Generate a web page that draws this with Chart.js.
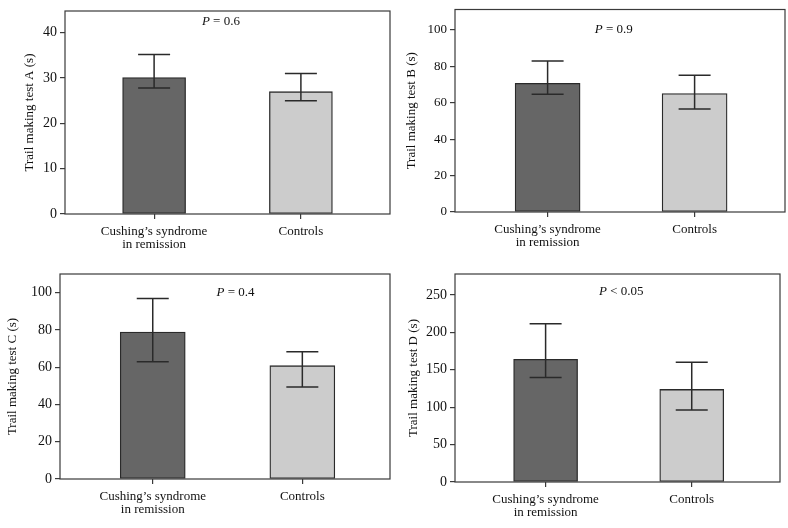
<!DOCTYPE html>
<html><head><meta charset="utf-8">
<script src="https://cdn.jsdelivr.net/npm/chart.js@4/dist/chart.umd.min.js"></script>
<style>
html,body{margin:0;padding:0;background:#fff;width:788px;height:528px;overflow:hidden}
.p{position:absolute;width:394px;height:264px}
</style></head><body>
<div class="p" style="left:0;top:0"><canvas id="cA"></canvas></div>
<div class="p" style="left:394px;top:0"><canvas id="cB"></canvas></div>
<div class="p" style="left:0;top:264px"><canvas id="cC"></canvas></div>
<div class="p" style="left:394px;top:264px"><canvas id="cD"></canvas></div>
<script>
// ---- data ----
const categories = [["Cushing’s syndrome", "in remission"], ["Controls"]];
const groupPositions = [0, 1];

const titleA = "Trail making test A (s)";
const meansA = [30.1, 27.0];
const upperA = [35.2, 31.0];
const lowerA = [27.8, 25.0];
const ticksA = [0, 10, 20, 30, 40];
const pTextA = ["P", " = 0.6"];

const titleB = "Trail making test B (s)";
const meansB = [70.7, 65.0];
const upperB = [82.9, 75.1];
const lowerB = [64.7, 56.6];
const ticksB = [0, 20, 40, 60, 80, 100];
const pTextB = ["P", " = 0.9"];

const titleC = "Trail making test C (s)";
const meansC = [78.9, 60.8];
const upperC = [96.9, 68.3];
const lowerC = [62.9, 49.4];
const ticksC = [0, 20, 40, 60, 80, 100];
const pTextC = ["P", " = 0.4"];

const titleD = "Trail making test D (s)";
const meansD = [164, 123.7];
const upperD = [211.4, 160];
const lowerD = [139.6, 96.1];
const ticksD = [0, 50, 100, 150, 200, 250];
const pTextD = ["P", " < 0.05"];

// ---- styling / layout ----
const FONT = "'Liberation Serif', 'Times New Roman', serif";
const TXT = '#111';
const LINE = '#3a3a3a';
const barColors = ['#666666', '#cccccc'];

const errorBarPlugin = {
  id: 'errbars',
  afterDatasetsDraw(chart, args, opts) {
    const meta = chart.getDatasetMeta(0);
    const ys = chart.scales.y;
    const ctx = chart.ctx;
    ctx.save();
    ctx.strokeStyle = '#2a2a2a';
    ctx.lineWidth = 1.5;
    meta.data.forEach((bar, i) => {
      const x = bar.x;
      const yU = ys.getPixelForValue(opts.upper[i]);
      const yL = ys.getPixelForValue(opts.lower[i]);
      const hw = opts.cap;
      ctx.beginPath();
      ctx.moveTo(x, yU); ctx.lineTo(x, yL);
      ctx.moveTo(x - hw, yU); ctx.lineTo(x + hw, yU);
      ctx.moveTo(x - hw, yL); ctx.lineTo(x + hw, yL);
      ctx.stroke();
    });
    ctx.restore();
  },
  afterDraw(chart, args, opts) {
    const a = chart.chartArea;
    const ctx = chart.ctx;
    ctx.save();
    ctx.strokeStyle = LINE;
    ctx.lineWidth = 1.2;
    ctx.strokeRect(a.left, a.top, a.right - a.left, a.bottom - a.top);
    // P value text
    const xs = chart.scales.x, ys = chart.scales.y;
    const px = xs.getPixelForValue(opts.px);
    const py = ys.getPixelForValue(opts.py);
    ctx.fillStyle = TXT;
    ctx.textBaseline = 'middle';
    ctx.font = "italic 13px " + FONT;
    const w1 = ctx.measureText(opts.ptext[0]).width;
    ctx.font = "13px " + FONT;
    const w2 = ctx.measureText(opts.ptext[1]).width;
    let sx = px - (w1 + w2) / 2;
    ctx.font = "italic 13px " + FONT;
    ctx.textAlign = 'left';
    ctx.fillText(opts.ptext[0], sx, py);
    ctx.font = "13px " + FONT;
    ctx.fillText(opts.ptext[1], sx + w1, py);
    ctx.restore();
  }
};

function makeChart(id, title, means, upper, lower, yticks, ptext, L) {
  const padLeft = L.titleX - 4 - 7.8;
  new Chart(document.getElementById(id), {
    type: 'bar',
    data: {
      datasets: [{
        data: groupPositions.map((g, i) => ({x: g, y: means[i]})),
        backgroundColor: barColors,
        borderColor: '#2a2a2a',
        borderWidth: 1.3,
        borderSkipped: false,
        barThickness: L.barW
      }]
    },
    options: {
      responsive: false,
      animation: false,
      devicePixelRatio: 1,
      layout: {padding: {left: padLeft, right: 394 - L.right, top: L.top, bottom: 0}},
      plugins: {
        legend: {display: false},
        tooltip: {enabled: false},
        errbars: {upper, lower, cap: 16, px: L.px, py: L.py, ptext}
      },
      scales: {
        x: {
          type: 'linear',
          offset: false,
          min: L.xmin, max: L.xmax,
          afterBuildTicks: s => { s.ticks = groupPositions.map(v => ({value: v})); },
          afterFit: s => { s.height = 264 - L.bottom; },
          border: {display: false},
          grid: {offset: false, drawOnChartArea: false, drawTicks: true, tickLength: 5, tickColor: LINE, lineWidth: 1.2},
          ticks: {
            autoSkip: false, maxRotation: 0, padding: 6,
            color: TXT,
            font: {family: FONT, size: 13, lineHeight: 1.02},
            callback: v => categories[groupPositions.indexOf(v)]
          }
        },
        y: {
          min: 0, max: L.ymax,
          afterBuildTicks: s => { s.ticks = yticks.map(v => ({value: v})); },
          afterFit: s => { s.width = L.left - padLeft; },
          border: {display: false},
          grid: {drawOnChartArea: false, drawTicks: true, tickLength: 5, tickColor: LINE, lineWidth: 1.2},
          ticks: {padding: 3, color: TXT, font: {family: FONT, size: L.tickSize, lineHeight: 1}},
          title: {display: true, text: title, color: TXT, padding: {top: 4, bottom: 4},
                  font: {family: FONT, size: 13}}
        }
      }
    },
    plugins: [errorBarPlugin]
  });
}

for (const id of ['cA','cB','cC','cD']) {
  const c = document.getElementById(id); c.width = 394; c.height = 264;
}

makeChart('cA', titleA, meansA, upperA, lowerA, ticksA, pTextA,
  {left: 65, right: 390, top: 11, bottom: 214, titleX: 30, xmin: -0.607, xmax: 1.607, ymax: 44.8, barW: 63, tickSize: 14, px: 0.455, py: 42.4});
makeChart('cB', titleB, meansB, upperB, lowerB, ticksB, pTextB,
  {left: 61, right: 391, top: 9, bottom: 212, titleX: 18, xmin: -0.63, xmax: 1.615, ymax: 111.2, barW: 65, tickSize: 13, px: 0.45, py: 100.3});
makeChart('cC', titleC, meansC, upperC, lowerC, ticksC, pTextC,
  {left: 60, right: 390, top: 9, bottom: 215, titleX: 13, xmin: -0.62, xmax: 1.586, ymax: 110, barW: 65, tickSize: 14, px: 0.553, py: 100});
makeChart('cD', titleD, meansD, upperD, lowerD, ticksD, pTextD,
  {left: 61, right: 386, top: 9, bottom: 218, titleX: 20, xmin: -0.62, xmax: 1.604, ymax: 278, barW: 64, tickSize: 14, px: 0.518, py: 254.8});
</script>
</body></html>
